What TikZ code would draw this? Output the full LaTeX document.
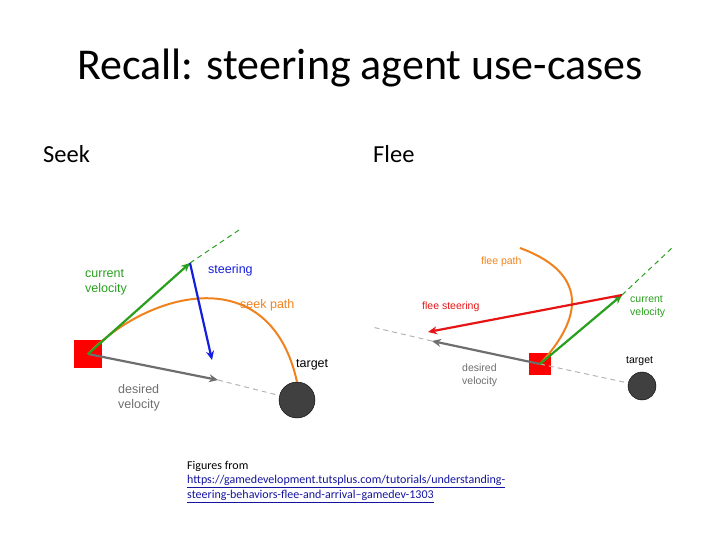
\documentclass[tikz,border=0pt]{standalone}
\usepackage{fontspec}
\setmainfont{Carlito}
\newfontfamily\lab{Liberation Sans}
\usetikzlibrary{arrows.meta}
\definecolor{sgreen}{RGB}{40,160,30}
\definecolor{sblue}{RGB}{20,30,220}
\definecolor{sorange}{RGB}{240,130,30}
\definecolor{sred}{RGB}{230,20,20}
\definecolor{sgray}{RGB}{110,110,110}
\definecolor{lgray}{RGB}{180,180,180}
\definecolor{slink}{RGB}{20,20,160}
\tikzset{
  vec/.style={line width=2.2pt,-{Stealth[length=9pt,width=8pt]}},
  ext/.style={line width=1pt,dash pattern=on 5pt off 4pt},
  lbl/.style={font=\lab\fontsize{12.5}{15}\selectfont,align=left,anchor=west,inner sep=0pt},
  agent/.style={fill=red,draw=none,minimum size=#1,inner sep=0pt},
  tgt/.style={circle,fill=black!75,draw=black,minimum size=#1,inner sep=0pt}
}
\begin{document}
\begin{tikzpicture}[x=1pt,y=-1pt]
\useasboundingbox (0,0) rectangle (720,540);
\node (title) at (360,68) {\fontsize{44}{48}\selectfont Recall: steering agent use-cases};
\node[anchor=west,inner sep=0pt] (seek) at (43,154) {\fontsize{24.5}{28}\selectfont Seek};
\node[anchor=west,inner sep=0pt] (flee) at (373,154) {\fontsize{24.5}{28}\selectfont Flee};

% seek
\node[agent=28pt] (sq1) at (88,354) {};
\node[tgt=36pt] (t1) at (297,400) {};
\coordinate (v1) at (190,263);
\coordinate (v1e) at (242,228);
\coordinate (s1) at (212,360);
\coordinate (d1) at (218,380);
\draw[ext,sgreen] (v1) -- (v1e);
\draw[ext,lgray] (d1) -- (t1);
\draw[sorange,line width=2pt] (sq1.center) .. controls (150,290) and (270,260) .. (t1.north);
\draw[vec,sgray] (sq1.center) -- (d1);
\draw[vec,sgreen] (sq1.center) -- (v1);
\draw[vec,sblue] (v1) -- (s1);
\node[lbl,sgreen] (cv1) at (85,282) {current\\velocity};
\node[lbl,sblue] (st1) at (208,270) {steering};
\node[lbl,sorange] (sp1) at (240,305) {seek path};
\node[lbl] (tl1) at (296,365) {target};
\node[lbl,sgray] (dv1) at (118,398) {desired\\velocity};

% flee
\node[tgt=28pt] (t2) at (642,386) {};
\node[agent=22pt] (sq2) at (540,364) {};
\coordinate (d2) at (432,341);
\coordinate (d2e) at (372,327);
\coordinate (v2) at (622,295);
\coordinate (v2e) at (672,248);
\coordinate (f2) at (428,332);
\draw[ext,lgray] (d2) -- (d2e);
\draw[ext,lgray] (sq2.center) -- (t2);
\draw[ext,sgreen] (v2) -- (v2e);
\draw[sorange,line width=2pt] (sq2.center) .. controls (590,310) and (580,270) .. (520,248);
\draw[vec,sgray] (sq2.center) -- (d2);
\draw[vec,sgreen] (sq2.center) -- (v2);
\draw[vec,sred] (v2) -- (f2);
\node[lbl,sorange,font=\lab\fontsize{10.5}{13}\selectfont] (fp2) at (481,262) {flee path};
\node[lbl,sred,font=\lab\fontsize{10.5}{13}\selectfont] (fs2) at (422,307) {flee steering};
\node[lbl,sgreen,font=\lab\fontsize{10.5}{13}\selectfont] (cv2) at (630,307) {current\\velocity};
\node[lbl,font=\lab\fontsize{10.5}{13}\selectfont] (tl2) at (626,361) {target};
\node[lbl,sgray,font=\lab\fontsize{10.5}{13}\selectfont] (dv2) at (462,375) {desired\\velocity};

% source
\node[anchor=north west,align=left,inner sep=0pt,font=\fontsize{12}{14.5}\selectfont] (src) at (187,461)
 {Figures from\\\textcolor{slink}{\underline{https://gamedevelopment.tutsplus.com/tutorials/understanding-}}\\\textcolor{slink}{\underline{steering-behaviors-flee-and-arrival--gamedev-1303}}};
\end{tikzpicture}
\end{document}
